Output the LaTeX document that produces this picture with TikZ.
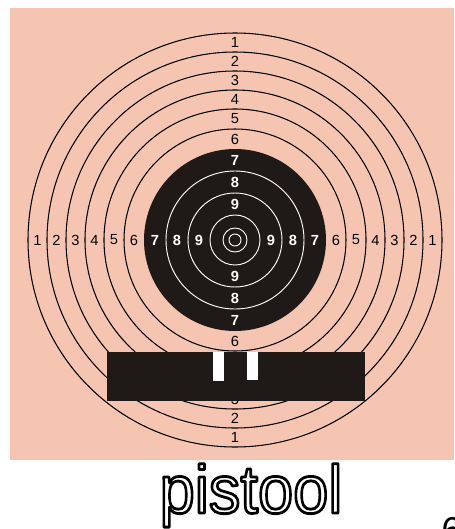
\documentclass[tikz,border=0pt]{standalone}
\usepackage{fontspec}
\setmainfont{Liberation Sans}
\definecolor{targetpink}{RGB}{246,197,178}
\definecolor{targetblack}{RGB}{31,26,23}
% hollow letters: fill white, stroke black
\newcommand{\hollowtext}[1]{\special{pdf:code 2 Tr 2.1 w 1 j 1 g 0 G}#1\special{pdf:code 0 Tr 0 g}}

\begin{document}
\begin{tikzpicture}[x=0.75pt,y=-0.75pt,
  ring/.style={line width=0.8pt},
  wring/.style={white,line width=0.7pt},
  lab/.style={inner sep=0pt,font=\fontsize{11}{11}\selectfont},
  wlab/.style={inner sep=0pt,text=white,font=\fontsize{11}{11}\selectfont\bfseries}]
\useasboundingbox (0,0) rectangle (454,529);
\fill[white] (0,0) rectangle (454,529);
\fill[targetpink] (10,8) rectangle (454,460);
\coordinate (c) at (235,240);

% rings 1-6 on the pink
\foreach \r in {207,188,169,150,131,111}
  \draw[ring] (c) circle[radius=\r];
% black centre with the white rings
\fill[targetblack] (c) circle[radius=91];
\foreach \r in {69,47,25,12,6}
  \draw[wring] (c) circle[radius=\r];

% numbers in the pink
\foreach \n/\d in {1/197.5,2/178.5,3/159.5,4/140.5,5/121,6/101}{
  \node[lab] (top\n) at (235,240-\d) {\n};
  \node[lab] (bot\n) at (235,240+\d) {\n};
  \node[lab] (left\n) at (235-\d,240) {\n};
  \node[lab] (right\n) at (235+\d,240) {\n};
}
% numbers in the black
\foreach \n/\d in {7/80,8/58,9/36}{
  \node[wlab] (top\n) at (235,240-\d) {\n};
  \node[wlab] (bot\n) at (235,240+\d) {\n};
  \node[wlab] (left\n) at (235-\d,240) {\n};
  \node[wlab] (right\n) at (235+\d,240) {\n};
}

% bar under the target
\fill[targetblack] (107,352) rectangle (365,401);
\fill[white] (213,352) rectangle (224,381);
\fill[white] (247,352) rectangle (258,380);

\node[anchor=base,inner sep=0pt,font=\fontsize{51}{51}\selectfont]
  (title) at (251,513) {\scalebox{0.93}[1]{\hollowtext{pistool}}};
\node[anchor=north west,inner sep=0pt,font=\fontsize{28}{28}\selectfont]
  (corner) at (441,517) {6};
\end{tikzpicture}
\end{document}
